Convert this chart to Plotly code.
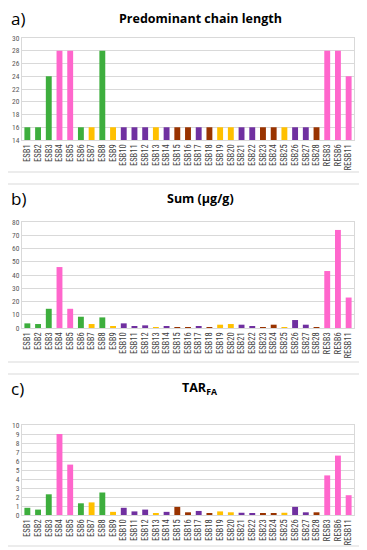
import plotly.graph_objects as go

categories = [f"ESB{i}" for i in range(1, 29)] + ["RESB3", "RESB6", "RESB11"]
groups = ["G", "G", "G", "P", "P", "G", "Y", "G", "Y", "V", "V", "V", "Y", "V", "B",
          "B", "V", "B", "Y", "Y", "V", "V", "B", "B", "Y", "V", "V", "B", "P", "P", "P"]
chain_length = [16, 16, 24, 28, 28, 16, 16, 28, 16, 16, 16, 16, 16, 16, 16,
                 16, 16, 16, 16, 16, 16, 16, 16, 16, 16, 16, 16, 16, 28, 28, 24]
sum_ugg = [3.5, 3, 14.5, 46, 14.5, 8.5, 3, 8, 1.5, 3.5, 1.5, 2, 0.5, 1, 0.7,
           0.7, 1, 0.5, 2.5, 3, 2.5, 1.5, 0.7, 2.5, 0.7, 6, 2.5, 0.5, 43, 74, 23]
tar_fa = [0.8, 0.6, 2.3, 9, 5.6, 1.3, 1.4, 2.5, 0.35, 0.8, 0.4, 0.6, 0.15, 0.35, 0.9,
          0.3, 0.45, 0.2, 0.4, 0.3, 0.25, 0.2, 0.2, 0.2, 0.25, 0.9, 0.3, 0.3, 4.4, 6.6, 2.2]

palette = {"G": "#3DAE3D", "P": "#FF66CC", "Y": "#FFC000", "V": "#7030A0", "B": "#993300"}
colors = [palette[g] for g in groups]

OFF = 8  # default page body margin
W, H = 367 - OFF, 550 - OFF
def px(x):
    return (x - OFF) / W
def py(y):
    return 1 - (y - OFF) / H

panels = [
    dict(vals=chain_length, rng=[14, 30], dtick=2, top=38, bot=140, box=(5, 172),
         title="<b>Predominant chain length</b>", letter="a)"),
    dict(vals=sum_ugg, rng=[0, 80], dtick=10, top=222, bot=328, box=(184, 362),
         title="<b>Sum (μg/g)</b>", letter="b)"),
    dict(vals=tar_fa, rng=[0, 10], dtick=1, top=425, bot=515, box=(374, 546),
         title="<b>TAR<sub>FA</sub></b>", letter="c)"),
]

fig = go.Figure()
xdom = [px(22), px(354)]
grid = "#D9D9D9"
narrow = "Liberation Sans Narrow, Roboto Condensed, Open Sans, DejaVu Sans Condensed"
tickfont = dict(family=narrow, size=7.5, color="#595959")
catfont = dict(family=narrow, size=8.5, color="#404040")

for i, p in enumerate(panels):
    n = "" if i == 0 else str(i + 1)
    lo = p["rng"][0]
    fig.add_trace(go.Bar(x=categories, y=[v - lo for v in p["vals"]], base=lo,
                         marker=dict(color=colors, line=dict(width=0)),
                         xaxis="x" + n, yaxis="y" + n, showlegend=False, width=0.55))
    fig.layout["xaxis" + n] = dict(domain=xdom, anchor="y" + n, tickangle=-90, tickfont=catfont,
                                   showline=True, linecolor=grid, mirror=True, ticks="",
                                   showgrid=False, fixedrange=True, automargin=False)
    fig.layout["yaxis" + n] = dict(domain=[py(p["bot"]), py(p["top"])], anchor="x" + n,
                                   range=p["rng"], dtick=p["dtick"], tickfont=tickfont,
                                   gridcolor=grid, gridwidth=1, showline=True, linecolor=grid,
                                   mirror=True, ticks="", zeroline=False, fixedrange=True,
                                   automargin=False)
    b0, b1 = p["box"]
    fig.add_shape(type="rect", xref="paper", yref="paper", x0=px(4), x1=px(362),
                  y0=py(b1), y1=py(b0), line=dict(color="#D9D9D9", width=1), layer="below")
    fig.add_annotation(text=p["title"], xref="paper", yref="paper", x=px(200), y=py(b0 + 14),
                       showarrow=False, font=dict(family="Open Sans, DejaVu Sans", size=12.5, color="#000"),
                       xanchor="center", yanchor="middle")
    fig.add_annotation(text=p["letter"], xref="paper", yref="paper", x=px(9), y=py(b0 + 14),
                       showarrow=False, font=dict(family="Open Sans, DejaVu Sans", size=17, color="#000"),
                       xanchor="left", yanchor="middle")

fig.update_layout(width=W, height=H, margin=dict(l=0, r=0, t=0, b=0),
                  paper_bgcolor="white", plot_bgcolor="white", bargap=0.45)
fig.write_html("out.html")
